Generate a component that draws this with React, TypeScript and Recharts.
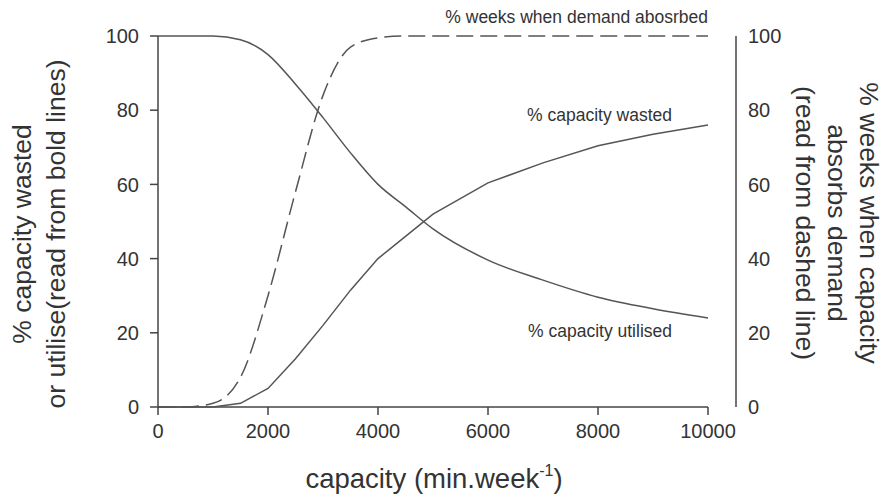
import { LineChart, Line, XAxis, YAxis, ReferenceLine } from 'recharts';

const capacity = [0, 500, 1000, 1500, 2000, 2500, 3000, 3500, 4000, 4500, 5000, 6000, 7000, 8000, 9000, 10000];
const utilised = [0, 0, 0, 1, 5, 13, 22, 31.5, 40, 46, 52, 60.4, 65.8, 70.4, 73.5, 76];
const wasted = [100, 100, 100, 99, 95, 87, 78, 68.5, 60, 54, 48, 39.6, 34.2, 29.6, 26.5, 24];
const absorbed = [0, 0, 1, 8, 30, 58, 84, 97, 99.5, 100, 100, 100, 100, 100, 100, 100];

const xTicks = [0, 2000, 4000, 6000, 8000, 10000];
const yTicks = [0, 20, 40, 60, 80, 100];

const data = capacity.map((c, i) => ({
  capacity: c,
  utilised: utilised[i],
  wasted: wasted[i],
  absorbed: absorbed[i],
}));

const FONT = '"Liberation Sans", Arial, sans-serif';
const TEXT = '#333333';
const LINE = '#555555';
const AXIS = '#444444';

const tickStyle = { fontSize: 20, fontFamily: FONT, fill: TEXT };

export default function App() {
  return (
    <div style={{ position: 'absolute', left: 0, top: 0, width: 887, height: 498, background: '#fff' }}>
      <LineChart
        width={887}
        height={498}
        data={data}
        margin={{ top: 36, right: 0, bottom: 0, left: 0 }}
      >
        <XAxis
          dataKey="capacity"
          type="number"
          domain={[0, 10000]}
          ticks={xTicks}
          padding={{ left: 0, right: 28 }}
          axisLine={false}
          tickLine={{ stroke: AXIS, strokeWidth: 1.5 }}
          tickSize={8}
          tickMargin={9}
          height={91}
          tick={tickStyle}
          interval={0}
        />
        <YAxis
          yAxisId="left"
          domain={[0, 100]}
          ticks={yTicks}
          width={158}
          axisLine={{ stroke: AXIS, strokeWidth: 1.5 }}
          tickLine={{ stroke: AXIS, strokeWidth: 1.5 }}
          tickSize={8}
          tickMargin={11}
          tick={tickStyle}
          interval={0}
        />
        <YAxis
          yAxisId="right"
          orientation="right"
          domain={[0, 100]}
          ticks={yTicks}
          width={151}
          axisLine={{ stroke: AXIS, strokeWidth: 1.5 }}
          tickLine={false}
          tickSize={8}
          tickMargin={4}
          tick={tickStyle}
          interval={0}
        />
        <ReferenceLine
          yAxisId="left"
          segment={[{ x: 0, y: 0 }, { x: 10000, y: 0 }]}
          stroke={AXIS}
          strokeWidth={1.5}
          ifOverflow="visible"
        />
        <Line
          yAxisId="left"
          type="monotone"
          dataKey="wasted"
          stroke={LINE}
          strokeWidth={1.5}
          dot={false}
          isAnimationActive={false}
        />
        <Line
          yAxisId="left"
          type="linear"
          dataKey="utilised"
          stroke={LINE}
          strokeWidth={1.5}
          dot={false}
          isAnimationActive={false}
        />
        <Line
          yAxisId="right"
          type="monotone"
          dataKey="absorbed"
          stroke={LINE}
          strokeWidth={1.5}
          strokeDasharray="17 7"
          dot={false}
          isAnimationActive={false}
        />
      </LineChart>

      {/* titles and annotations */}
      <svg
        width={887}
        height={498}
        style={{ position: 'absolute', left: 0, top: 0, pointerEvents: 'none' }}
        fontFamily={FONT}
        fill={TEXT}
      >
        <text x={708} y={17} fontSize={17.5} textAnchor="end" dominantBaseline="central">
          % weeks when demand abosrbed
        </text>
        <text x={672} y={115} fontSize={17.5} textAnchor="end" dominantBaseline="central">
          % capacity wasted
        </text>
        <text x={672} y={331} fontSize={17.5} textAnchor="end" dominantBaseline="central">
          % capacity utilised
        </text>

        <text x={434} y={488} fontSize={27.5} textAnchor="middle">
          capacity (min.week<tspan fontSize={16} dy={-12}>-1</tspan>
          <tspan dy={12}>)</tspan>
        </text>

        <g transform="translate(22, 234) rotate(-90)">
          <text x={0} y={0} fontSize={26.5} textAnchor="middle" dominantBaseline="central">
            % capacity wasted
          </text>
          <text x={0} y={34} fontSize={26.5} textAnchor="middle" dominantBaseline="central">
            or utilise(read from bold lines)
          </text>
        </g>

        <g transform="translate(869, 223) rotate(90)">
          <text x={0} y={0} fontSize={26.5} textAnchor="middle" dominantBaseline="central">
            % weeks when capacity
          </text>
          <text x={0} y={32} fontSize={26.5} textAnchor="middle" dominantBaseline="central">
            absorbs demand
          </text>
          <text x={0} y={64} fontSize={26.5} textAnchor="middle" dominantBaseline="central">
            (read from dashed line)
          </text>
        </g>
      </svg>
    </div>
  );
}
